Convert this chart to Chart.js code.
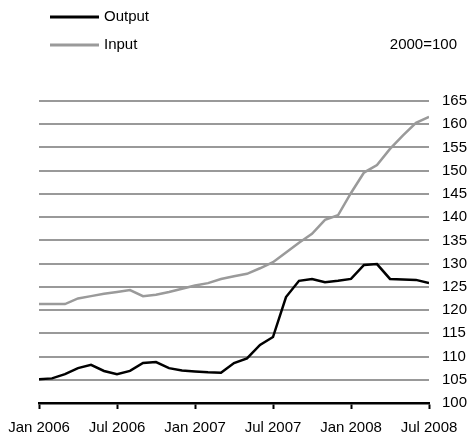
<!DOCTYPE html>
<html>
<head>
<meta charset="utf-8">
<script src="https://cdn.jsdelivr.net/npm/chart.js@4/dist/chart.umd.min.js"></script>
<style>
  html, body { margin: 0; padding: 0; background: #fff; }
  #wrap { width: 468px; height: 436px; }
</style>
</head>
<body>
<div id="wrap"><canvas id="chart" width="468" height="436"></canvas></div>
<script>
// monthly, Jan 2006 .. Jul 2008
const months = ['Jan 2006','Feb 2006','Mar 2006','Apr 2006','May 2006','Jun 2006','Jul 2006','Aug 2006','Sep 2006','Oct 2006','Nov 2006','Dec 2006',
    'Jan 2007','Feb 2007','Mar 2007','Apr 2007','May 2007','Jun 2007','Jul 2007','Aug 2007','Sep 2007','Oct 2007','Nov 2007','Dec 2007',
    'Jan 2008','Feb 2008','Mar 2008','Apr 2008','May 2008','Jun 2008','Jul 2008'];
const outputIdx = [105.1,105.3,106.2,107.5,108.2,106.9,106.2,106.9,108.6,108.8,107.5,107.0,
    106.8,106.6,106.5,108.6,109.6,112.5,114.2,122.8,126.3,126.7,126.0,126.3,
    126.7,129.7,129.9,126.7,126.6,126.5,125.8];
const inputIdx = [121.3,121.3,121.3,122.5,123.0,123.5,123.9,124.3,123.0,123.3,123.9,124.6,
    125.3,125.8,126.7,127.3,127.8,129.0,130.3,132.4,134.5,136.4,139.4,140.4,
    145.2,149.6,151.2,154.7,157.6,160.3,161.6];
const xTickLabels = ['Jan 2006','Jul 2006','Jan 2007','Jul 2007','Jan 2008','Jul 2008'];
const unitNote = '2000=100';

const FONT = "'Liberation Sans', Arial, Helvetica, sans-serif";
Chart.defaults.font.family = FONT;
Chart.defaults.font.size = 15;
Chart.defaults.color = '#000';

// legend stacked top-left + base note
const annotate = {
    id: 'annotate',
    afterDraw(chart) {
        const ctx = chart.ctx;
        ctx.save();
        ctx.font = '15px ' + FONT;
        ctx.textBaseline = 'middle';
        chart.data.datasets.forEach((ds, i) => {
            const y = 17 + i * 28;
            ctx.strokeStyle = ds.borderColor;
            ctx.lineWidth = 3;
            ctx.beginPath();
            ctx.moveTo(50, y);
            ctx.lineTo(99, y);
            ctx.stroke();
            ctx.fillStyle = '#000';
            ctx.textAlign = 'left';
            ctx.fillText(ds.label, 104, y);
        });
        ctx.textAlign = 'right';
        ctx.fillText(unitNote, 457, 45);
        ctx.restore();
    }
};

new Chart(document.getElementById('chart'), {
    type: 'line',
    data: {
        datasets: [
            {
                label: 'Output',
                data: outputIdx.map((v, i) => ({ x: i, y: v })),
                borderColor: '#000',
                borderWidth: 2.5,
                pointRadius: 0,
                tension: 0
            },
            {
                label: 'Input',
                data: inputIdx.map((v, i) => ({ x: i, y: v })),
                borderColor: '#9a9a9a',
                borderWidth: 2.5,
                pointRadius: 0,
                tension: 0
            }
        ]
    },
    options: {
        responsive: false,
        animation: false,
        layout: { padding: { left: 39, top: 101, right: 0, bottom: 0 } },
        plugins: {
            legend: { display: false },
            tooltip: { enabled: false }
        },
        scales: {
            x: {
                type: 'linear',
                min: 0,
                max: months.length - 1,
                border: { display: true, color: '#000', width: 2.5 },
                grid: { drawOnChartArea: false, drawTicks: true, tickLength: 6, tickColor: '#000', tickWidth: 2 },
                ticks: {
                    stepSize: 6,
                    padding: 10,
                    maxRotation: 0,
                    autoSkip: false,
                    callback: (v) => xTickLabels[v / 6]
                },
                afterFit: (scale) => {
                    scale.height = 33;
                    scale.paddingLeft = 0;
                    scale.paddingRight = 0;
                }
            },
            y: {
                position: 'right',
                min: 100,
                max: 165,
                border: { display: false },
                grid: { color: '#999', lineWidth: 2, drawTicks: false },
                ticks: { stepSize: 5, padding: 13 },
                afterFit: (scale) => { scale.width = 39; }
            }
        }
    },
    plugins: [annotate]
});
</script>
</body>
</html>
